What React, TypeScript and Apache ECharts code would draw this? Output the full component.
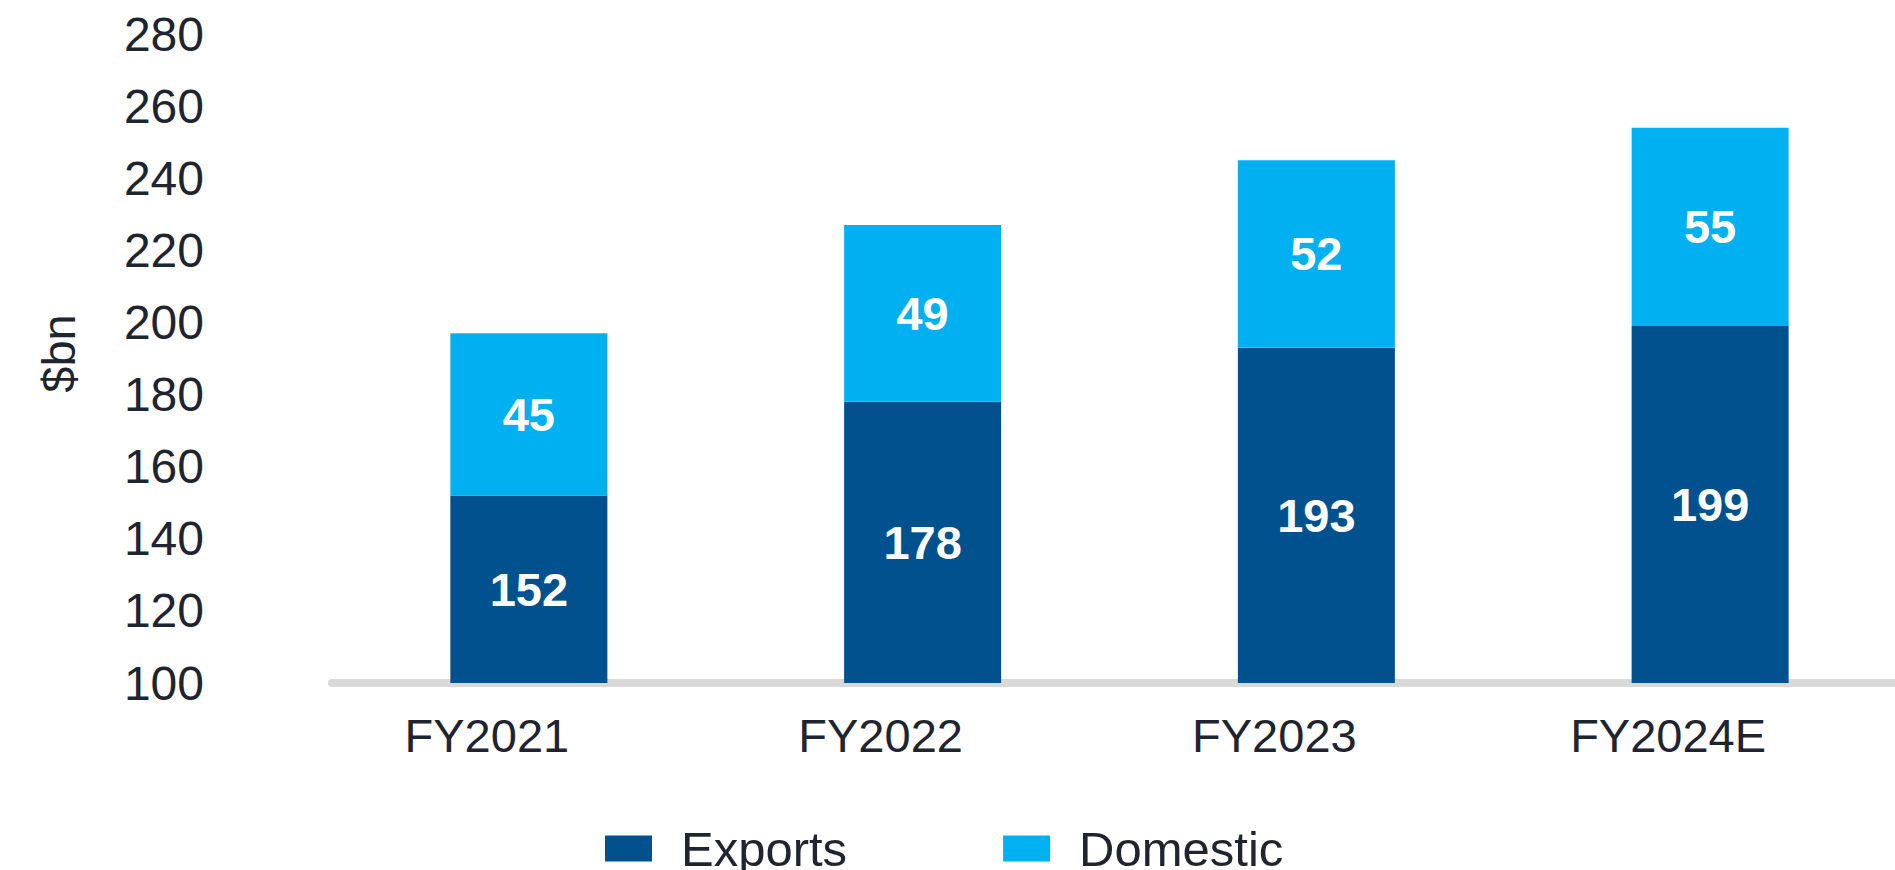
import React, { useEffect, useRef } from "react";
import * as echarts from "echarts";

const categories = ["FY2021", "FY2022", "FY2023", "FY2024E"];
const exportsValues = [152, 178, 193, 199];
const domesticValues = [45, 49, 52, 55];
const seriesNames = ["Exports", "Domestic"];

const FONT = "'Liberation Sans', Arial, sans-serif";
const TEXT = "#1f2431";
const DARK = "#00518e";
const LIGHT = "#00b0f0";

export default function App() {
  const ref = useRef<HTMLDivElement>(null);

  useEffect(() => {
    if (!ref.current) return;
    const chart = echarts.init(ref.current, undefined, { renderer: "svg" });
    const labelStyle = {
      show: true,
      position: "inside" as const,
      color: "#ffffff",
      fontFamily: FONT,
      fontWeight: "bold" as const,
      fontSize: 47,
    };
    chart.setOption({
      animation: false,
      backgroundColor: "#ffffff",
      textStyle: { fontFamily: FONT },
      grid: {
        left: 332,
        width: 1575,
        top: 34,
        bottom: 187,
        containLabel: false,
        outerBoundsMode: "none",
      },
      legend: {
        data: seriesNames,
        left: 605,
        top: 824,
        padding: 0,
        itemWidth: 47,
        itemHeight: 26,
        itemGap: 156,
        icon: "rect",
        textStyle: {
          color: TEXT,
          fontSize: 49,
          lineHeight: 30,
          fontFamily: FONT,
          padding: [0, 0, 8, 24],
        },
      },
      xAxis: {
        type: "category",
        data: categories,
        axisLine: { show: true, lineStyle: { color: "#d9d9d9", width: 8 } },
        axisTick: { show: false },
        axisLabel: {
          color: TEXT,
          fontSize: 47,
          fontFamily: FONT,
          margin: 29,
          padding: [0, 84, 0, 0],
        },
      },
      yAxis: {
        type: "value",
        min: 100,
        max: 280,
        interval: 20,
        name: "$bn",
        nameLocation: "middle",
        nameGap: 250,
        nameTextStyle: {
          color: TEXT,
          fontSize: 47,
          fontFamily: FONT,
          padding: [0, 0, 0, 10],
        },
        axisLine: { show: false },
        axisTick: { show: false },
        splitLine: { show: false },
        axisLabel: { color: TEXT, fontSize: 48, fontFamily: FONT, margin: 128 },
      },
      series: [
        {
          name: seriesNames[0],
          type: "bar",
          stack: "total",
          data: exportsValues,
          barWidth: 157,
          itemStyle: { color: DARK },
          label: labelStyle,
        },
        {
          name: seriesNames[1],
          type: "bar",
          stack: "total",
          data: domesticValues,
          barWidth: 157,
          itemStyle: { color: LIGHT },
          label: labelStyle,
        },
      ],
    });
    return () => chart.dispose();
  }, []);

  return (
    <div
      ref={ref}
      style={{ position: "fixed", left: 0, top: 0, width: 1895, height: 870 }}
    />
  );
}
